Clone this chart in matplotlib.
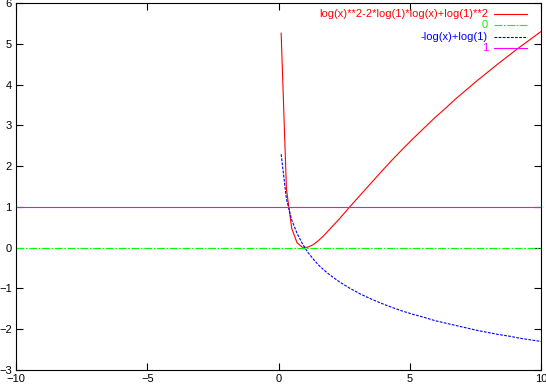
import matplotlib
matplotlib.use("Agg")
import matplotlib.pyplot as plt
from matplotlib.lines import Line2D

plt.rcParams['font.family'] = ['Liberation Sans', 'DejaVu Sans']

# sample points (gnuplot samples, x > 0 only)
x = [0.101, 0.303, 0.505, 0.707, 0.909, 1.111, 1.313, 1.515, 1.717, 1.919,
     2.323, 2.727, 3.131, 3.535, 3.939, 4.343, 4.747, 5.152, 5.556, 5.960,
     6.364, 6.768, 7.172, 7.576, 7.980, 8.384, 8.788, 9.192, 9.596, 10.0]
y_sq = [5.26, 1.43, 0.47, 0.12, 0.01, 0.01, 0.07, 0.17, 0.29, 0.43,
        0.71, 1.01, 1.30, 1.59, 1.88, 2.16, 2.43, 2.69, 2.94, 3.19,
        3.42, 3.66, 3.88, 4.10, 4.31, 4.52, 4.72, 4.92, 5.11, 5.30]
y_neg = [2.29, 1.19, 0.68, 0.35, 0.10, -0.11, -0.27, -0.42, -0.54, -0.65,
         -0.84, -1.00, -1.14, -1.26, -1.37, -1.47, -1.56, -1.64, -1.71, -1.79,
         -1.85, -1.91, -1.97, -2.03, -2.08, -2.13, -2.17, -2.22, -2.26, -2.30]
x_const = [-10, 10]
y_zero = [0, 0]
y_one = [1, 1]

labels = ['log(x)**2-2*log(1)*log(x)+log(1)**2', '0', '-log(x)+log(1)', '1']
colors = ['#ff0000', '#00ff00', '#0000ff', '#ff00ff']
styles = ['-', (0, (7, 1.5, 1.5, 1.5)), (0, (2.5, 1.2)), '-']

fig = plt.figure(figsize=(5.46, 3.86), dpi=100)
ax = fig.add_axes([16/546, 16/386, 525/546, 367/386])

lw = 0.8
ax.plot(x, y_sq, color=colors[0], ls=styles[0], lw=lw)
ax.plot(x_const, y_zero, color=colors[1], ls=styles[1], lw=lw)
ax.plot(x, y_neg, color=colors[2], ls=styles[2], lw=lw)
ax.plot(x_const, y_one, color=colors[3], ls=styles[3], lw=lw)

ax.set_xlim(-10, 10)
ax.set_ylim(-3, 6)
ax.set_xticks(range(-10, 11, 5))
ax.set_yticks(range(-3, 7))
ax.tick_params(direction='in', length=5, width=0.8, top=True, right=True,
               labelsize=8, pad=3)
for s in ax.spines.values():
    s.set_linewidth(0.8)

# gnuplot-style key, right aligned text with sample line after it
for i, (lab, c, st) in enumerate(zip(labels, colors, styles)):
    yy = 1 - (11 + 11.5 * i) / 367
    ax.text((488 - 16) / 525, yy, lab, color=c, fontsize=8, ha='right',
            va='center', transform=ax.transAxes)
    ax.add_line(Line2D([(494 - 16) / 525, (527 - 16) / 525], [yy, yy],
                       color=c, ls=st, lw=lw, transform=ax.transAxes))

fig.savefig('out.png', dpi=100)
